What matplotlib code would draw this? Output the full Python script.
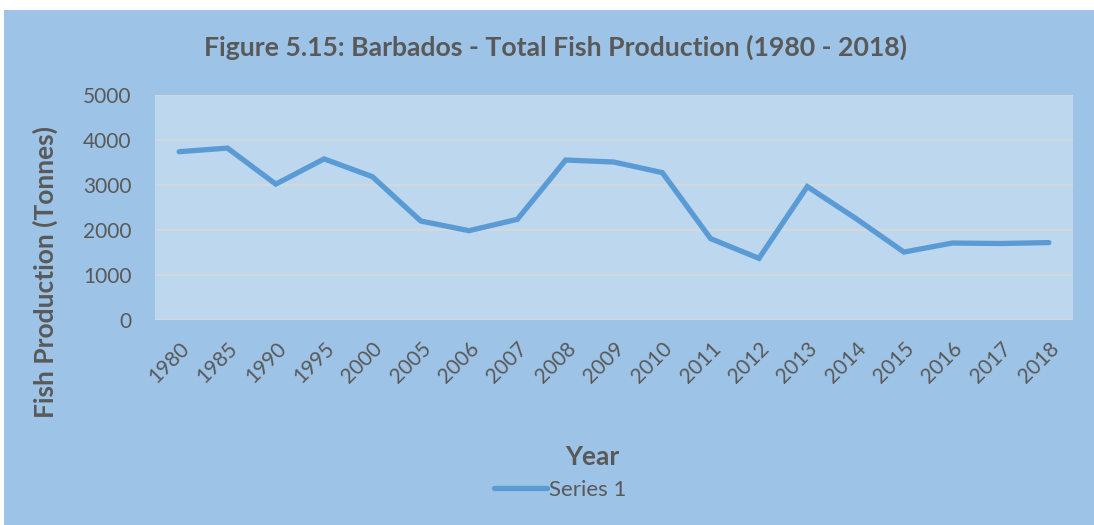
import matplotlib.pyplot as plt
from matplotlib.patches import Rectangle

# data
years = ['1980', '1985', '1990', '1995', '2000', '2005', '2006', '2007', '2008', '2009',
         '2010', '2011', '2012', '2013', '2014', '2015', '2016', '2017', '2018']
production = [3740, 3820, 3020, 3580, 3185, 2200, 1985, 2237, 3555, 3510,
              3275, 1808, 1370, 2965, 2260, 1510, 1710, 1700, 1720]

plt.rcParams['font.family'] = ['Lato', 'DejaVu Sans']
text_col = '#595959'

fig = plt.figure(figsize=(10.94, 5.25), dpi=100, facecolor='white')
# chart area background
fig.patches.append(Rectangle((4 / 1094, 0), 1, 1 - 10 / 525, transform=fig.transFigure,
                             facecolor='#9DC3E6', edgecolor='none', zorder=0))

ax = fig.add_axes([155 / 1094, 205 / 525, 918 / 1094, 225 / 525])
ax.set_zorder(2)
ax.set_facecolor('#BDD7EE')

x = range(len(years))
ax.plot(x, production, color='#5B9BD5', linewidth=3.8, solid_capstyle='round',
        solid_joinstyle='miter', label='Series 1', zorder=3)

ax.set_xlim(-0.5, len(years) - 0.5)
ax.set_ylim(0, 5000)
ax.set_yticks(range(0, 5001, 1000))
ax.set_xticks(list(x))
ax.set_xticklabels(years, rotation=45, ha='right', rotation_mode='anchor')
ax.tick_params(axis='both', length=0, labelsize=15, colors=text_col)
ax.tick_params(axis='x', pad=13)
ax.tick_params(axis='y', pad=17)

ax.grid(axis='y', color='#D9D9D9', linewidth=1.2, zorder=1)
for s in ax.spines.values():
    s.set_visible(False)

fig.text(555 / 1094, 1 - 47 / 525, 'Figure 5.15: Barbados - Total Fish Production (1980 - 2018)',
         ha='center', va='center', fontsize=19.2, fontweight='bold', color=text_col)
fig.text(45 / 1094, 1 - 272 / 525, 'Fish Production (Tonnes)', rotation=90,
         ha='center', va='center', fontsize=19, fontweight='bold', color=text_col)
fig.text(592 / 1094, 1 - 457 / 525, 'Year', ha='center', va='center',
         fontsize=19, fontweight='bold', color=text_col)

leg = fig.legend(loc='center', bbox_to_anchor=(560 / 1094, 1 - 490 / 525), frameon=False,
                 fontsize=16, handlelength=2.4, handletextpad=0.1, labelcolor=text_col)

fig.savefig('out.png', dpi=100, facecolor=fig.get_facecolor())
